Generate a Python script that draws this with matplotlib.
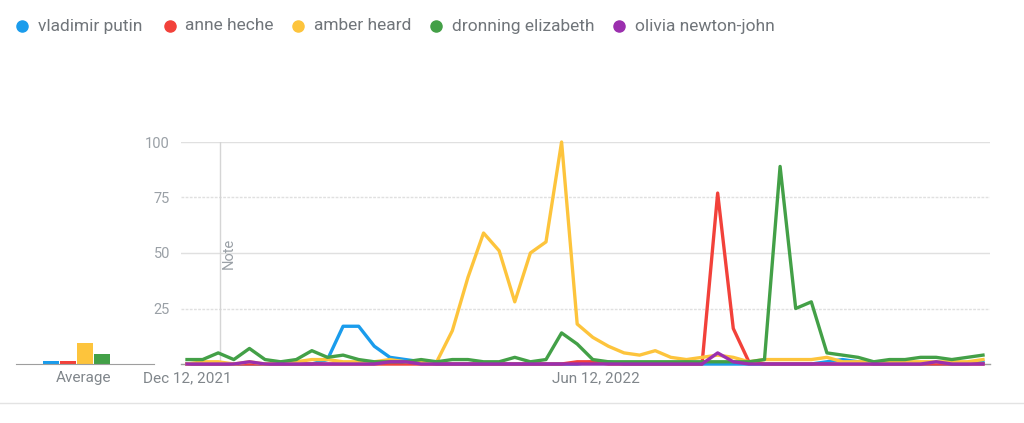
import numpy as np
import matplotlib.pyplot as plt
from matplotlib.lines import Line2D

plt.rcParams['font.family'] = ['Roboto', 'DejaVu Sans']

# weekly search interest, Dec 12 2021 .. Dec 4 2022 (52 weeks)
names = ["vladimir putin", "anne heche", "amber heard", "dronning elizabeth", "olivia newton-john"]
colors = ['#1a9cec', '#f2413a', '#fdc43c', '#43a047', '#9b2fae']

putin = [0, 0, 0, 0, 0, 0, 0, 0, 0, 2,
         17, 17, 8, 3, 2, 1, 0, 0, 0, 0,
         0, 0, 0, 0, 0, 0, 1, 1, 0, 0,
         0, 0, 0, 0, 0, 0, 0, 0, 0, 0,
         0, 1, 2, 1, 0, 0, 0, 0, 0, 0,
         0, 1]
heche = [0, 0, 0, 0, 0, 0, 0, 0, 0, 0,
         0, 0, 0, 0, 0, 0, 0, 0, 0, 0,
         0, 0, 0, 0, 0, 1, 1, 0, 0, 0,
         0, 0, 0, 0, 77, 16, 1, 0, 0, 0,
         0, 0, 0, 0, 0, 0, 0, 0, 0, 0,
         0, 0]
heard = [0, 1, 1, 0, 1, 0, 1, 1, 2, 2,
         1, 1, 1, 2, 1, 1, 1, 15, 39, 59,
         51, 28, 50, 55, 100, 18, 12, 8, 5, 4,
         6, 3, 2, 3, 4, 3, 1, 2, 2, 2,
         2, 3, 1, 1, 1, 1, 1, 1, 1, 1,
         1, 2]
elizabeth = [2, 2, 5, 2, 7, 2, 1, 2, 6, 3,
             4, 2, 1, 1, 1, 2, 1, 2, 2, 1,
             1, 3, 1, 2, 14, 9, 2, 1, 1, 1,
             1, 1, 1, 1, 1, 1, 1, 2, 89, 25,
             28, 5, 4, 3, 1, 2, 2, 3, 3, 2,
             3, 4]
newton_john = [0, 0, 0, 0, 1, 0, 0, 0, 0, 0,
               0, 0, 0, 1, 1, 0, 0, 0, 0, 0,
               0, 0, 0, 0, 0, 0, 0, 0, 0, 0,
               0, 0, 0, 0, 5, 1, 0, 0, 0, 0,
               0, 0, 0, 0, 0, 0, 0, 0, 1, 0,
               0, 0]
series = [putin, heche, heard, elizabeth, newton_john]
averages = [1.5, 1.5, 9.5, 4.5]

date_ticks = [0, 26.2]
date_labels = ["Dec 12, 2021", "Jun 12, 2022"]
note_week = 2.12

W, H = 1024, 423
fig = plt.figure(figsize=(W / 100, H / 100), dpi=100)

# average bars (drawn first, transparent so it does not hide the y labels)
ax2 = fig.add_axes([16 / W, (H - 364) / H, 138 / W, 222 / H])
ax2.patch.set_visible(False)
ax2.bar(np.arange(4), averages, width=0.94, color=colors[:4])
ax2.set_xlim(-2.06, 6.06)
ax2.set_ylim(0, 100)
for sp in ['top', 'right', 'left']:
    ax2.spines[sp].set_visible(False)
ax2.spines['bottom'].set_color('#9e9e9e')
ax2.set_yticks([])
ax2.set_xticks([1.94])
ax2.set_xticklabels(["Average"])
ax2.tick_params(axis='x', length=0, pad=5, labelsize=11, labelcolor='#80868b')

# main chart
ax = fig.add_axes([181 / W, (H - 364) / H, (990 - 181) / W, 222 / H])
ax.patch.set_visible(False)
x = np.arange(len(putin))
for s, c in zip(series, colors):
    ax.plot(x, s, color=c, lw=2.4, clip_on=False, zorder=3)
ax.set_xlim(-6 / 15.6, 51 + 7 / 15.6)
ax.set_ylim(0, 100)
for v in [50, 100]:
    ax.axhline(v, color='#e0e0e0', lw=1, zorder=0)
for v in [25, 75]:
    ax.axhline(v, color='#e0e0e0', lw=1, ls=(0, (2, 1)), zorder=0)
ax.axvline(note_week, color='#d5d5d5', lw=1, zorder=1)
ax.text(note_week + 0.54, 50, "Note", rotation=90, ha='center', va='center',
        color='#9aa0a6', fontsize=10.5)
for sp in ['top', 'right', 'left']:
    ax.spines[sp].set_visible(False)
ax.spines['bottom'].set_color('#9e9e9e')
ax.spines['bottom'].set_linewidth(1)
ax.set_yticks([25, 50, 75, 100])
ax.set_yticklabels(['25', '50', '75', '100'])
ax.set_xticks(date_ticks)
ax.set_xticklabels(date_labels)
ax.tick_params(axis='y', length=0, pad=8, labelsize=10.5, labelcolor='#9aa0a6')
ax.tick_params(axis='x', length=0, pad=5, labelsize=11, labelcolor='#80868b')

# legend
dot_x = [22, 170, 298, 436, 619]
txt_x = [38, 185, 314, 452, 635]
ly = 1 - 26 / H
for dx, tx, n, c in zip(dot_x, txt_x, names, colors):
    fig.add_artist(Line2D([dx / W], [ly], marker='o', ms=8, color=c, mec=c,
                          transform=fig.transFigure))
    fig.text(tx / W, ly, n, ha='left', va='center', fontsize=12.5, color='#70757a')

# bottom divider
fig.add_artist(Line2D([0, 1], [1 - 403 / H] * 2, color='#e3e3e3', lw=1,
                      transform=fig.transFigure))

fig.savefig('out.png', dpi=100)
